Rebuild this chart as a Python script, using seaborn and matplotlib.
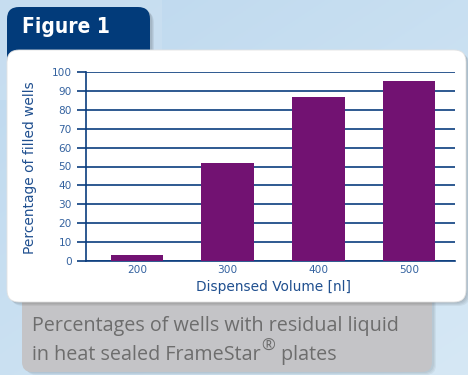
import numpy as np
import pandas as pd
import matplotlib
matplotlib.use("Agg")
import matplotlib.pyplot as plt
import seaborn as sns
from matplotlib.patches import FancyBboxPatch

# Data
volumes = ["200", "300", "400", "500"]
filled_pct = [3.3, 51.7, 86.6, 95.0]
y_ticks = list(range(0, 101, 10))

BAR = "#721272"
LINE = "#0b3d7e"
TICK_TXT = "#3563a0"
LABEL_TXT = "#1f4f8f"
TAB = "#023b7a"
CAPTION_BOX = "#c4c4c7"
CAPTION_TXT = "#6d6d6d"

sns.set_theme(style="white")
plt.rcParams["font.family"] = ["DejaVu Sans"]

W, H = 468, 375
fig = plt.figure(figsize=(W / 100, H / 100), dpi=100)

# Pixel-space canvas for the panel decoration
bg = fig.add_axes([0, 0, 1, 1], zorder=0)
bg.set_xlim(0, W)
bg.set_ylim(H, 0)
bg.axis("off")

# soft blue backdrop
yy, xx = np.mgrid[0:1:200j, 0:1:200j]
g = 0.55 * yy + 0.45 * xx
c0 = np.array([0xbd, 0xd8, 0xee]) / 255
c1 = np.array([0xd6, 0xe8, 0xf5]) / 255
img = c0[None, None, :] * (1 - g[..., None]) + c1[None, None, :] * g[..., None]
bg.imshow(img, extent=[0, W, H, 0], aspect="auto", zorder=0)
bg.add_patch(plt.Rectangle((0, 0), 162, 100, color="#cfe2f2", alpha=0.5, lw=0, zorder=0.5))


def rbox(x0, y0, x1, y1, r, **kw):
    p = FancyBboxPatch((x0, y0), x1 - x0, y1 - y0,
                       boxstyle=f"round,pad=0,rounding_size={r}",
                       mutation_scale=1, **kw)
    bg.add_patch(p)
    return p


# tab shadow + tab
for i in range(3):
    rbox(7 + 2 + i, 7 + 2 + i, 150 + 2 + i, 70, 12, fc="black", ec="none", alpha=0.06, zorder=1)
rbox(7, 7, 150, 70, 12, fc=TAB, ec="none", zorder=2)

# caption box shadow + box
for i in range(3):
    rbox(22 + 2 + i, 290, 432 + 2 + i, 372 + 1 + i, 10, fc="black", ec="none", alpha=0.045, zorder=1)
rbox(22, 290, 432, 372, 10, fc=CAPTION_BOX, ec="none", zorder=2)

# white card shadow + card
for i in range(4):
    rbox(7 + 1 + i, 50 + 1 + i, 466 + 1 + i, 302 + 1 + i, 12, fc="black", ec="none", alpha=0.05, zorder=3)
rbox(7, 50, 466, 302, 12, fc="white", ec="#e2e2e2", lw=0.6, zorder=4)

bg.text(22, 27, "Figure 1", color="white", fontsize=15, fontweight="bold",
        fontstretch="condensed", family=["DejaVu Sans"], va="center", ha="left", zorder=5)

# Chart
ax = fig.add_axes([85.5 / W, (H - 261) / H, (455 - 85.5) / W, (261 - 72) / H], zorder=2)
ax.patch.set_alpha(0)
df = pd.DataFrame({"volume": volumes, "pct": filled_pct})
sns.barplot(data=df, x="volume", y="pct", color=BAR, saturation=1, width=0.58,
            linewidth=0, ax=ax, zorder=3)
ax.set_xlim(-0.567, 3.507)
ax.set_ylim(0, 100)
ax.set_yticks(y_ticks)
ax.set_axisbelow(True)
ax.yaxis.grid(True, color=LINE, lw=1.2)
ax.xaxis.grid(False)
for s in ["top", "right"]:
    ax.spines[s].set_visible(False)
for s in ["left", "bottom"]:
    ax.spines[s].set_color(LINE)
    ax.spines[s].set_linewidth(1.2)
ax.tick_params(axis="y", left=True, length=6.8, width=1.2, color=LINE, pad=3,
               labelsize=7.6, labelcolor=TICK_TXT)
ax.tick_params(axis="x", bottom=False, length=0, pad=3.2, labelsize=7.6, labelcolor=TICK_TXT)
ax.set_xlabel("Dispensed Volume [nl]", fontsize=9.9, color=LABEL_TXT, va="center")
ax.set_ylabel("Percentage of filled wells", fontsize=9.9, color=LABEL_TXT, va="center")
ax.xaxis.set_label_coords(0.51, -0.136)
ax.yaxis.set_label_coords(-0.149, 0.495)

# Caption
cap_font = dict(fontsize=14.2, color=CAPTION_TXT, family=["Open Sans", "DejaVu Sans"], zorder=5)
bg.text(32, 326, "Percentages of wells with residual liquid", va="center", ha="left", **cap_font)
t1 = bg.text(32, 355, "in heat sealed FrameStar", va="center", ha="left", **cap_font)
fig.canvas.draw()
r = fig.canvas.get_renderer()
bb = t1.get_window_extent(r)
x_end = bb.x1 * W / fig.bbox.width
t2 = bg.text(x_end + 0.5, 347, "®", va="center", ha="left", **{**cap_font, "fontsize": 12})
fig.canvas.draw()
bb2 = t2.get_window_extent(r)
x_end2 = bb2.x1 * W / fig.bbox.width
bg.text(x_end2 + 1, 355, " plates", va="center", ha="left", **cap_font)

fig.savefig("out.png", dpi=100)
